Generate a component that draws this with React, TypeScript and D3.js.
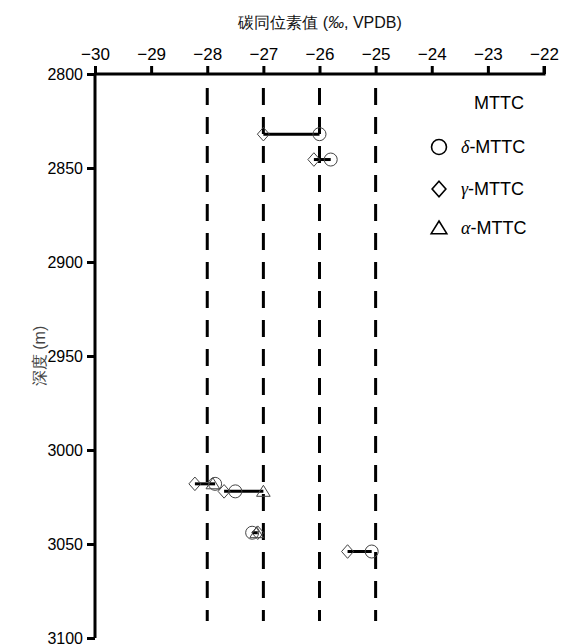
import React, { useEffect, useRef } from "react";
import * as d3 from "d3";

const xTicks = [-30, -29, -28, -27, -26, -25, -24, -23, -22];
const yTicks = [2800, 2850, 2900, 2950, 3000, 3050, 3100];
const refLines = [-28, -27, -26, -25];

const depths = [2832, 2845.5, 3018, 3022, 3044, 3054];
const deltaMTTC = [-26.0, -25.8, -27.86, -27.5, -27.2, -25.07];
const gammaMTTC = [-27.0, -26.1, -28.22, -27.7, -27.1, -25.5];
const alphaMTTC: (number | null)[] = [null, null, -27.9, -27.0, -27.12, null];

const legendItems = [
  { greek: "δ", label: "-MTTC", shape: "circle" },
  { greek: "γ", label: "-MTTC", shape: "diamond" },
  { greek: "α", label: "-MTTC", shape: "triangle" },
];

const W = 563;
const H = 644;
const x = d3.scaleLinear().domain([-30, -22]).range([95, 544]);
const y = d3.scaleLinear().domain([2800, 3100]).range([74, 638]);

const SANS = "Liberation Sans, Arial, sans-serif";

function marker(shape: string, cx: number, cy: number, s = 1, key?: any, stroke = "#444", sw = 1) {
  if (shape === "circle") {
    return <circle key={key} cx={cx} cy={cy} r={6.5 * s} fill="none" stroke={stroke} strokeWidth={sw} />;
  }
  if (shape === "diamond") {
    const hw = 6 * s, hh = 6.8 * s;
    const p = d3.path();
    p.moveTo(cx, cy - hh); p.lineTo(cx + hw, cy); p.lineTo(cx, cy + hh); p.lineTo(cx - hw, cy); p.closePath();
    return <path key={key} d={p.toString()} fill="none" stroke={stroke} strokeWidth={sw} />;
  }
  const hw = 6.8 * s, h = 11 * s;
  const p = d3.path();
  p.moveTo(cx, cy - h * 0.55); p.lineTo(cx + hw, cy + h * 0.45); p.lineTo(cx - hw, cy + h * 0.45); p.closePath();
  return <path key={key} d={p.toString()} fill="none" stroke={stroke} strokeWidth={sw} />;
}

export default function App() {
  const topRef = useRef<SVGGElement>(null);
  const leftRef = useRef<SVGGElement>(null);

  useEffect(() => {
    const fmt = (d: number) => (d < 0 ? "\u2212" + Math.abs(d) : String(d));
    const gTop = d3.select(topRef.current!);
    gTop.selectAll("*").remove();
    gTop.call(d3.axisTop(x).tickValues(xTicks).tickFormat(fmt as any).tickSize(8).tickPadding(6));
    gTop.select(".domain").attr("stroke-width", 3).attr("d", `M${x(-30)},0H${x(-22)}V-8`);
    gTop.selectAll(".tick line").attr("stroke-width", 3);
    gTop.selectAll(".tick text").attr("font-size", 17).attr("font-family", SANS).attr("fill", "#000");

    const gLeft = d3.select(leftRef.current!);
    gLeft.selectAll("*").remove();
    gLeft.call(d3.axisLeft(y).tickValues(yTicks).tickFormat(d3.format("d") as any).tickSize(8).tickPadding(4));
    gLeft.select(".domain").attr("stroke-width", 3).attr("d", `M0,${y(2800)}V${y(3100)}`);
    gLeft.selectAll(".tick line").attr("stroke-width", 3);
    gLeft.selectAll(".tick text").attr("font-size", 16).attr("font-family", SANS).attr("fill", "#000");
  }, []);

  const rows = depths.map((d, i) => {
    const vals = [deltaMTTC[i], gammaMTTC[i], alphaMTTC[i]].filter((v) => v != null) as number[];
    return { d, min: d3.min(vals)!, max: d3.max(vals)! };
  });

  return (
    <svg width={W} height={H} style={{ position: "absolute", left: 0, top: 0, background: "#fff" }} fontFamily={SANS}>
      <text x={320} y={28} textAnchor="middle" fontSize={16} fill="#111">
        碳同位素值 (<tspan fontStyle="italic">‰</tspan>, VPDB)
      </text>
      <text transform={`translate(45,${y(2950)}) rotate(-90)`} textAnchor="middle" fontSize={16} fill="#444">
        深度 (m)
      </text>

      {refLines.map((v) => (
        <line key={v} x1={x(v)} x2={x(v)} y1={88} y2={621} stroke="#000" strokeWidth={3} strokeDasharray="17,12" />
      ))}

      <g ref={leftRef} transform="translate(95,0)" />
      <g ref={topRef} transform={`translate(0,${y(2800)})`} />

      {rows.map((r, i) => (
        <line key={"r" + i} x1={x(r.min)} x2={x(r.max)} y1={y(r.d)} y2={y(r.d)} stroke="#000" strokeWidth={3} />
      ))}
      {depths.map((d, i) => marker("diamond", x(gammaMTTC[i]), y(d), 1, "g" + i))}
      {depths.map((d, i) => marker("circle", x(deltaMTTC[i]), y(d), 1, "c" + i))}
      {depths.map((d, i) =>
        alphaMTTC[i] != null ? marker("triangle", x(alphaMTTC[i] as number), y(d), 1, "a" + i) : null
      )}

      <text x={499} y={109} textAnchor="middle" fontSize={18}>MTTC</text>
      {legendItems.map((it, i) => {
        const cy = [147, 189, 228][i];
        return (
          <g key={it.greek}>
            {marker(it.shape, 439, cy, 1.15, "l" + i, "#000", 1.6)}
            <text x={461} y={cy + 6} fontSize={18}>
              <tspan fontFamily="Liberation Serif, Times New Roman, serif" fontStyle="italic">{it.greek}</tspan>
              {it.label}
            </text>
          </g>
        );
      })}
    </svg>
  );
}
